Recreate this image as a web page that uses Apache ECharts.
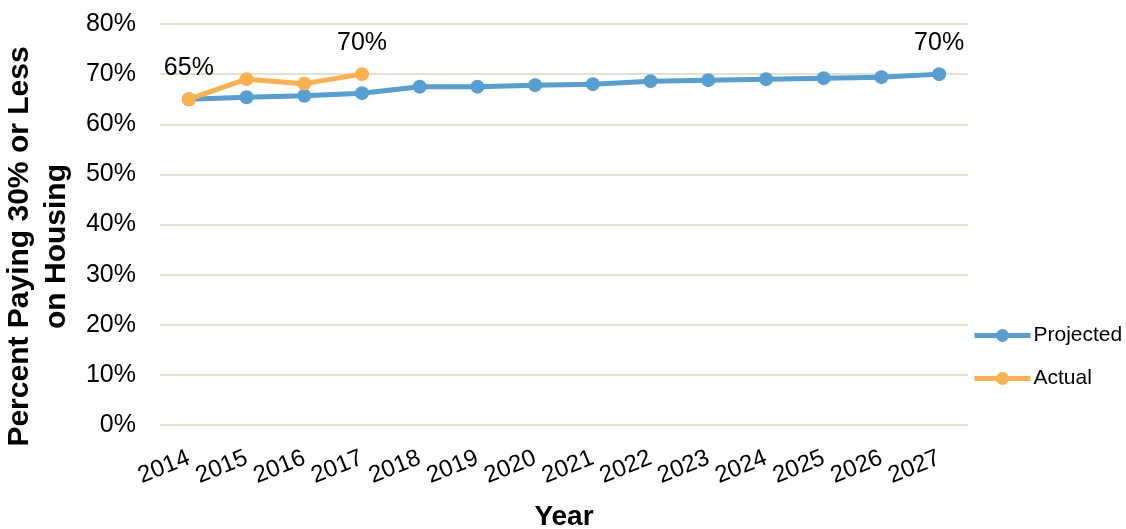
<!DOCTYPE html>
<html>
<head>
<meta charset="utf-8">
<script src="https://cdn.jsdelivr.net/npm/echarts@6/dist/echarts.min.js"></script>
<style>
  html, body { margin: 0; padding: 0; background: #fff; }
  #main { width: 1126px; height: 529px; }
</style>
</head>
<body>
<div id="main"></div>
<script>
// 年份
var years = ['2014', '2015', '2016', '2017', '2018', '2019', '2020', '2021', '2022', '2023', '2024', '2025', '2026', '2027'];
// 预测值 (%)
var projected = [65.0, 65.4, 65.7, 66.2, 67.5, 67.5, 67.8, 68.0, 68.6, 68.8, 69.0, 69.2, 69.4, 70.0];
// 实际值 (%)
var actual = [65.0, 69.0, 68.1, 70.0];
// 显示数据标签的点
var projectedLabelIdx = [13];
var actualLabelIdx = [0, 3];

var FONT = 'Liberation Sans, Arial, sans-serif';

function withLabels(values, idxList) {
    var d = [];
    for (var i = 0; i < values.length; i++) {
        if (idxList.indexOf(i) >= 0) {
            d.push({
                value: values[i],
                label: {
                    show: true,
                    position: 'top',
                    distance: 12,
                    formatter: function (p) { return Math.round(p.value) + '%'; },
                    color: '#000',
                    fontSize: 25,
                    fontFamily: FONT
                }
            });
        } else {
            d.push(values[i]);
        }
    }
    return d;
}

var myChart = echarts.init(document.getElementById('main'));

var option = {
    animation: false,
    grid: { left: 160, right: 158, top: 24, bottom: 104, outerBoundsMode: 'none' },
    legend: {
        orient: 'vertical',
        left: 972,
        top: 325,
        padding: 0,
        itemWidth: 56,
        itemHeight: 16,
        itemGap: 22,
        lineStyle: { width: 5 },
        textStyle: { color: '#000', fontSize: 21, fontFamily: FONT, padding: [0, 0, 0, -2] },
        data: ['Projected', 'Actual']
    },
    xAxis: {
        type: 'category',
        data: years,
        boundaryGap: true,
        name: 'Year',
        nameLocation: 'middle',
        nameGap: 78,
        nameTextStyle: { color: '#000', fontSize: 28, fontWeight: 'bold', fontFamily: FONT },
        axisLine: { show: false },
        axisTick: { show: false },
        axisLabel: {
            rotate: 22,
            interval: 0,
            margin: 32,
            color: '#000',
            fontSize: 24,
            fontFamily: FONT
        }
    },
    yAxis: {
        type: 'value',
        min: 0,
        max: 80,
        interval: 10,
        name: 'Percent Paying 30% or Less\non Housing',
        nameLocation: 'middle',
        nameGap: 72,
        nameRotate: 90,
        nameTextStyle: {
            color: '#000', fontSize: 30, fontWeight: 'bold', fontFamily: FONT,
            lineHeight: 37, padding: [0, 44, 0, 0]
        },
        axisLine: { show: false },
        axisTick: { show: false },
        axisLabel: {
            margin: 24,
            color: '#000',
            fontSize: 25,
            fontFamily: FONT,
            formatter: '{value}%'
        },
        splitLine: { lineStyle: { color: '#E3E1CF', width: 2 } }
    },
    series: [
        {
            name: 'Projected',
            type: 'line',
            data: withLabels(projected, projectedLabelIdx),
            symbol: 'circle',
            symbolSize: 14,
            lineStyle: { width: 5, color: '#559FD3' },
            itemStyle: { color: '#559FD3' }
        },
        {
            name: 'Actual',
            type: 'line',
            data: withLabels(actual, actualLabelIdx),
            symbol: 'circle',
            symbolSize: 14,
            lineStyle: { width: 5, color: '#FDB04E' },
            itemStyle: { color: '#FDB04E' }
        }
    ]
};

myChart.setOption(option);
</script>
</body>
</html>
